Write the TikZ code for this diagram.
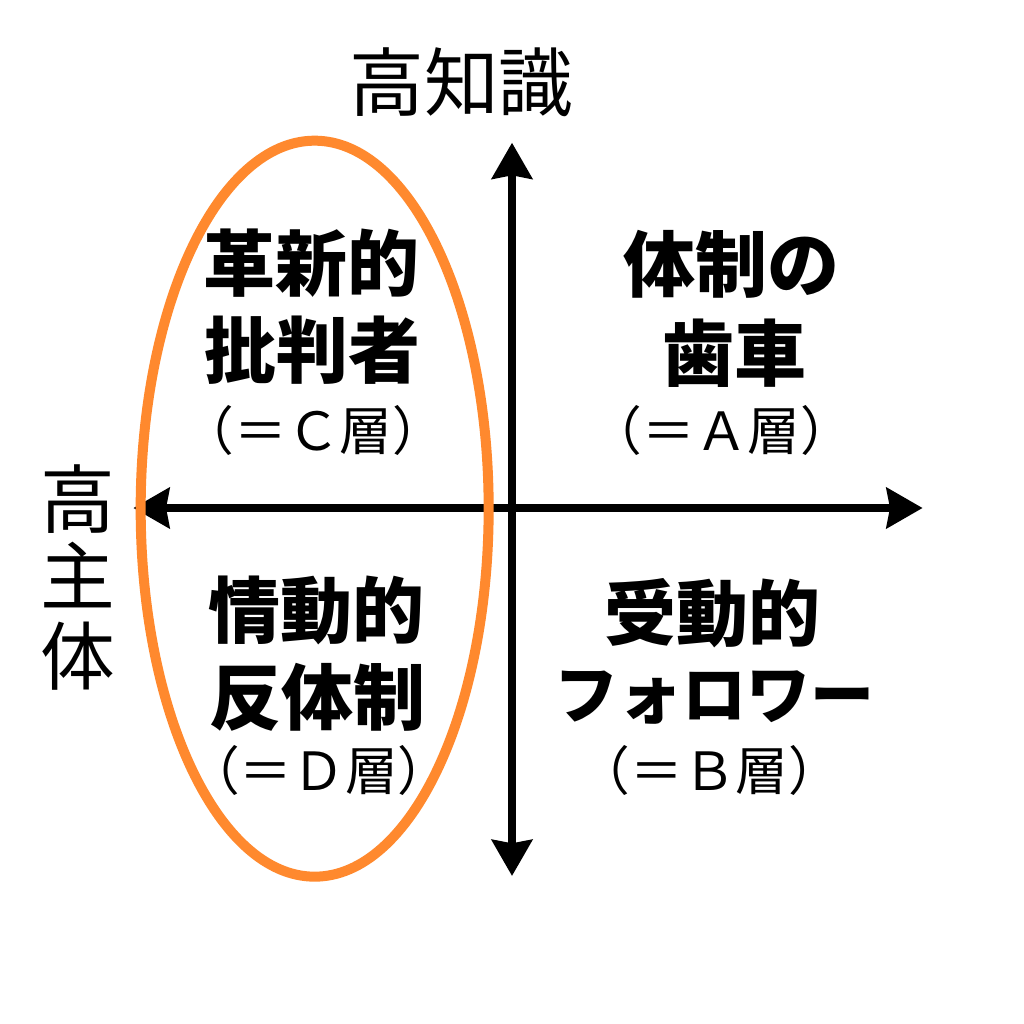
\documentclass[tikz,border=0pt]{standalone}
\usepackage{fontspec}
\setmainfont{Noto Sans CJK JP}
\usepackage{xcolor}
\usetikzlibrary{arrows.meta,shapes.geometric}
\definecolor{ringorange}{RGB}{255,137,46}
\tikzset{
	axisline/.style={line width=6.5pt,{Stealth[length=27pt,width=30pt,inset=2.5pt]}-{Stealth[length=27pt,width=30pt,inset=2.5pt]}},
	headlabel/.style={font=\fontsize{54}{54}\selectfont\bfseries,anchor=center,inner sep=0pt},
	widelabel/.style={font=\fontsize{48}{48}\selectfont\bfseries,anchor=center,inner sep=0pt},
	sublabel/.style={font=\fontsize{39.5}{40}\selectfont,anchor=center,inner sep=0pt},
	axislabel/.style={font=\fontsize{56}{56}\selectfont,anchor=center,inner sep=0pt},
}
\begin{document}
\begin{tikzpicture}[x=1pt,y=-1pt]
	\useasboundingbox (0,0) rectangle (768,768);
	\fill[white] (0,0) rectangle (768,768);
	% axes
	\coordinate (top) at (384,107);
	\coordinate (bottom) at (384,657);
	\coordinate (left) at (100,381);
	\coordinate (right) at (692,381);
	\draw[axisline] (top) -- (bottom);
	\draw[axisline] (left) -- (right);
	% ring
	\node (ring) at (236,381.5)[shape=ellipse,draw=ringorange,line width=7.5pt,minimum width=261pt,minimum height=552pt,inner sep=0pt]{};
	% axis labels
	\node (highknow) at (346,62)[axislabel]{高知識};
	\node (highself) at (58,374)[axislabel]{高};
	\node (selfmain) at (58,431)[axislabel]{主};
	\node (selfbody) at (58,492)[axislabel]{体};
	% quadrants
	\node (ctitlea) at (233.5,197)[headlabel]{革新的};
	\node (ctitleb) at (234,263)[headlabel]{批判者};
	\node (csub) at (235,323)[sublabel]{（＝Ｃ層）};
	\node (atitlea) at (548.5,198)[headlabel]{体制の};
	\node (atitleb) at (551,265)[headlabel]{歯車};
	\node (asub) at (541,323)[sublabel]{（＝Ａ層）};
	\node (dtitlea) at (237,458)[headlabel]{情動的};
	\node (dtitleb) at (238,523)[headlabel]{反体制};
	\node (dsub) at (239,578)[sublabel]{（＝Ｄ層）};
	\node (btitlea) at (534,460)[headlabel]{受動的};
	\node (btitleb) at (536,523)[widelabel]{フォロワー};
	\node (bsub) at (532,578)[sublabel]{（＝Ｂ層）};
\end{tikzpicture}
\end{document}
